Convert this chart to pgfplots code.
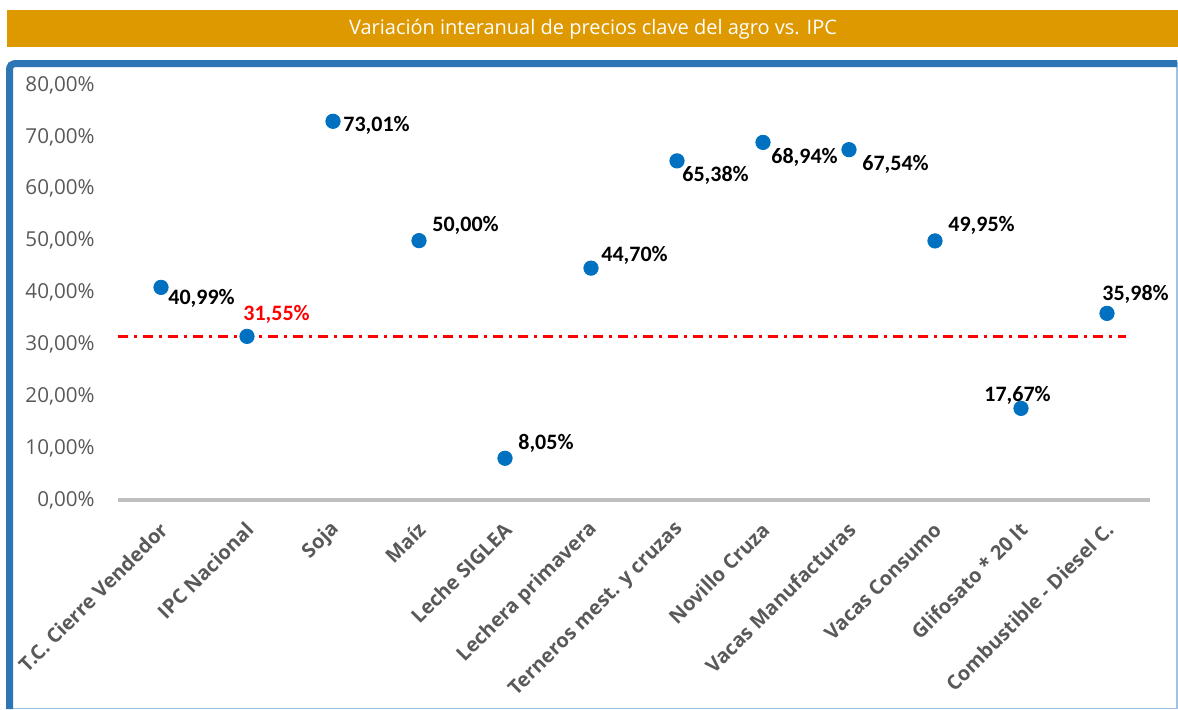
\documentclass[border=0pt]{standalone}
\usepackage{fontspec}
\setmainfont{Open Sans}
\newfontfamily\calib{Carlito}
\usepackage{pgfplots}
\usepackage{pgfplotstable}
\pgfplotsset{compat=1.18}
\definecolor{titlebar}{RGB}{222,152,0}
\definecolor{framebl}{RGB}{46,117,182}
\definecolor{frameli}{RGB}{157,195,230}
\definecolor{markbl}{RGB}{0,112,192}
\definecolor{txtgray}{RGB}{89,89,89}
\definecolor{axgray}{RGB}{191,191,191}
\pgfplotstableread{
x y dx dy
0 40.99 3.5 -5.5
2 73.01 5 -2
3 50.00 6.5 7.5
4 8.05 6.5 7.5
5 44.70 5 6.5
6 65.38 2.5 -7.5
7 68.94 4 -7.5
8 67.54 6.5 -7.5
9 49.95 6.5 8
10 17.67 -18.5 6.5
11 35.98 -2.5 9.5
}\datamain
\pgfplotstableread{
x y
1 31.55
}\dataipc
\begin{document}
\begin{tikzpicture}
\useasboundingbox (0,0) rectangle (589pt,-354.5pt);
\begin{scope}[x=0.5pt,y=-0.5pt]
\fill[titlebar] (7,10) rectangle (1178,47);
\node[text=white,font=\fontsize{10}{12}\selectfont] at (593,29) {Variación interanual de precios clave del agro vs. IPC};
\draw[frameli,line width=0.6pt] (9,63) rectangle (1177,708.5);
\draw[framebl,line width=3.5pt,rounded corners=3pt] (9.5,709) -- (9.5,63.5) -- (1177,63.5);
\end{scope}
\begin{axis}[
  at={(59pt,-250pt)}, anchor=south west,
  scale only axis, width=516pt, height=207.5pt,
  xmin=-0.5, xmax=11.5, ymin=0, ymax=80,
  clip=false,
  axis line style={draw=none},
  major tick length=0pt,
  ytick={0,10,...,80},
  xtick={0,...,11},
  xticklabels={T.C. Cierre Vendedor,IPC Nacional,Soja,Maíz,Leche SIGLEA,Lechera primavera,Terneros mest. y cruzas,Novillo Cruza,Vacas Manufacturas,Vacas Consumo,Glifosato * 20 lt,Combustible - Diesel C.},
  /pgf/number format/assume math mode=true,
  yticklabel={\pgfmathprintnumber[fixed,fixed zerofill,precision=2,use comma]{\tick}\%},
  yticklabel style={anchor=east, inner sep=0pt, xshift=-11.5pt, text=txtgray, font=\fontsize{10.3}{12}\selectfont},
  xticklabel style={xshift=1.5pt, yshift=-13pt, rotate=45, anchor=east, inner sep=0pt, text=txtgray, font=\fontsize{10}{12}\selectfont\bfseries},
]
\addplot[axgray, line width=2pt, forget plot] coordinates {(-0.5,0) (11.5,0)};
\addplot[only marks, mark=*, mark size=3.6pt, mark options={draw=markbl, fill=markbl},
  visualization depends on={\thisrow{dx} \as \dx},
  visualization depends on={\thisrow{dy} \as \dy},
  nodes near coords={\pgfmathprintnumber[fixed,fixed zerofill,precision=2,use comma]{\pgfplotspointmeta}\%},
  nodes near coords style={anchor=west, inner sep=0pt, xshift=\dx pt, yshift=\dy pt, text=black, font=\calib\bfseries\fontsize{11}{13}\selectfont},
  point meta=y] table[x=x,y=y] {\datamain};
\addplot[only marks, mark=*, mark size=3.6pt, mark options={draw=markbl, fill=markbl},
  nodes near coords={\pgfmathprintnumber[fixed,fixed zerofill,precision=2,use comma]{\pgfplotspointmeta}\%},
  nodes near coords style={anchor=west, inner sep=0pt, xshift=-2pt, yshift=11pt, text=red, font=\calib\bfseries\fontsize{11}{13}\selectfont},
  point meta=y] table[x=x,y=y] {\dataipc};
\addplot[red, line width=1.3pt, dash pattern=on 5pt off 3pt on 1.5pt off 3pt] coordinates {(-0.5,31.55) (11.22,31.55)};
\end{axis}
\end{tikzpicture}
\end{document}
